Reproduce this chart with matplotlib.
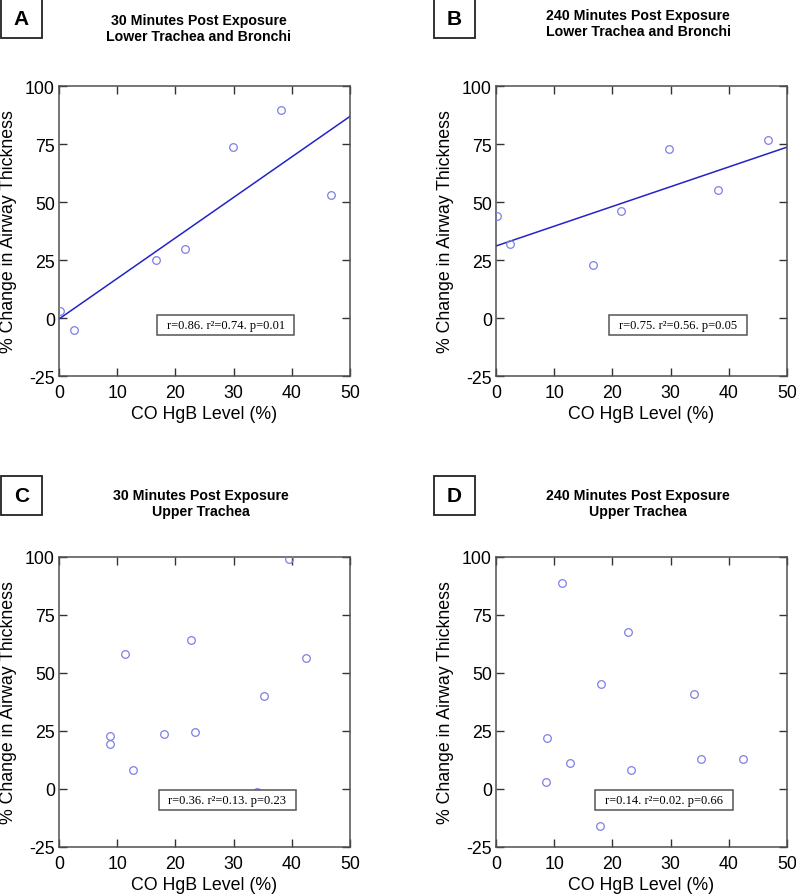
import numpy as np
import matplotlib
matplotlib.use("Agg")
import matplotlib.pyplot as plt
from matplotlib.patches import Rectangle

plt.rcParams['font.family'] = ['Liberation Sans', 'DejaVu Sans']
plt.rcParams['axes.unicode_minus'] = False

# data (CO HgB % vs % change in airway thickness)
x_a = [0.2, 2.5, 16.7, 21.6, 29.9, 38.1, 46.7]
y_a = [3.0, -5.3, 25.0, 29.6, 73.7, 89.8, 53.2]

x_b = [0.2, 2.4, 16.7, 21.5, 29.8, 38.1, 46.7]
y_b = [44.1, 31.9, 23.0, 46.1, 72.7, 55.2, 76.7]

x_c = [8.8, 8.7, 11.4, 12.8, 18.1, 22.7, 23.3, 35.3, 39.6, 42.5, 34.1]
y_c = [23.0, 19.2, 58.1, 8.0, 23.6, 64.2, 24.6, 40.1, 99.1, 56.6, -1.1]

x_d = [11.3, 22.6, 18.1, 34.0, 8.7, 12.7, 8.6, 23.2, 35.3, 42.5, 17.8]
y_d = [88.7, 67.6, 45.1, 41.1, 22.0, 11.0, 3.2, 8.0, 13.0, 13.0, -16.0]

letters = ['A', 'B', 'C', 'D']
titles = ['30 Minutes Post Exposure\nLower Trachea and Bronchi',
          '240 Minutes Post Exposure\nLower Trachea and Bronchi',
          '30 Minutes Post Exposure\nUpper Trachea',
          '240 Minutes Post Exposure\nUpper Trachea']
stats = ['r=0.86. r\u00b2=0.74. p=0.01',
         'r=0.75. r\u00b2=0.56. p=0.05',
         'r=0.36. r\u00b2=0.13. p=0.23',
         'r=0.14. r\u00b2=0.02. p=0.66']
show_fit = [True, True, False, False]

xticks = [0, 10, 20, 30, 40, 50]
yticks = [-25, 0, 25, 50, 75, 100]

W, H = 796, 895
fig = plt.figure(figsize=(W / 100, H / 100), dpi=100)

# pixel layout: (axes left, axes top, title centre x, title centre y, letter box x, letter box y, stat box x range)
panels = [
    (59, 87, 199, 29, 1, 0, (0.338, 0.808)),
    (496, 87, 638, 24, 434, 0, (0.390, 0.864)),
    (59, 558, 201, 504, 1, 477, (0.342, 0.814)),
    (496, 558, 638, 504, 434, 477, (0.341, 0.814)),
]
stat_y = [(0.142, 0.209), (0.142, 0.209), (0.129, 0.195), (0.129, 0.195)]
all_x = [x_a, x_b, x_c, x_d]
all_y = [y_a, y_b, y_c, y_d]

mark_col = '#7f7fe6'
line_col = '#2323c8'
spine_col = '#505050'

for i in range(4):
    axl, axt, tx, ty, lx, ly, sx = panels[i]
    ax = fig.add_axes([axl / W, 1 - (axt + 290) / H, 291 / W, 290 / H])
    xs = np.array(all_x[i])
    ys = np.array(all_y[i])
    ax.plot(xs, ys, 'o', mfc='none', mec=mark_col, ms=5.5, mew=0.9, zorder=3)
    if show_fit[i]:
        k, b = np.polyfit(xs, ys, 1)
        xx = np.array([0, 50])
        ax.plot(xx, k * xx + b, color=line_col, lw=1.1, zorder=2)
    ax.set_xlim(0, 50)
    ax.set_ylim(-25, 100)
    ax.set_xticks(xticks)
    ax.set_yticks(yticks)
    ax.tick_params(direction='in', length=6, width=1, color='#333333',
                   top=True, right=True, labelsize=12.8)
    ax.tick_params(axis='x', pad=6)
    ax.tick_params(axis='y', pad=3)
    for s in ax.spines.values():
        s.set_color(spine_col)
        s.set_linewidth(1.1)
    ax.set_xlabel('CO HgB Level (%)', fontsize=12.8)
    ax.set_ylabel('% Change in Airway Thickness', fontsize=12.8)
    ax.xaxis.set_label_coords(0.5, -0.128)
    ax.yaxis.set_label_coords(-0.172, 0.5)
    ax.xaxis.label.set_va('center')
    ax.yaxis.label.set_va('center')

    # stats box
    y0, y1 = stat_y[i]
    ax.add_patch(Rectangle((sx[0], y0), sx[1] - sx[0], y1 - y0, transform=ax.transAxes,
                           fc='white', ec='#555555', lw=1.1, zorder=5))
    ax.text((sx[0] + sx[1]) / 2, (y0 + y1) / 2, stats[i], transform=ax.transAxes,
            ha='center', va='center', fontsize=9, family=['Liberation Serif'], zorder=6)

    # title
    fig.text(tx / W, 1 - ty / H, titles[i], ha='center', va='center',
             fontsize=10.2, fontweight='bold', linespacing=1.1)

    # panel letter box
    fig.patches.append(Rectangle((lx / W, 1 - (ly + 39) / H), 41 / W, 39 / H,
                                 transform=fig.transFigure, fc='white', ec='#222222', lw=1.3))
    fig.text((lx + 20.5) / W, 1 - (ly + 19.5) / H, letters[i], ha='center', va='center',
             fontsize=15, fontweight='bold')

fig.savefig('out.png', dpi=100)
